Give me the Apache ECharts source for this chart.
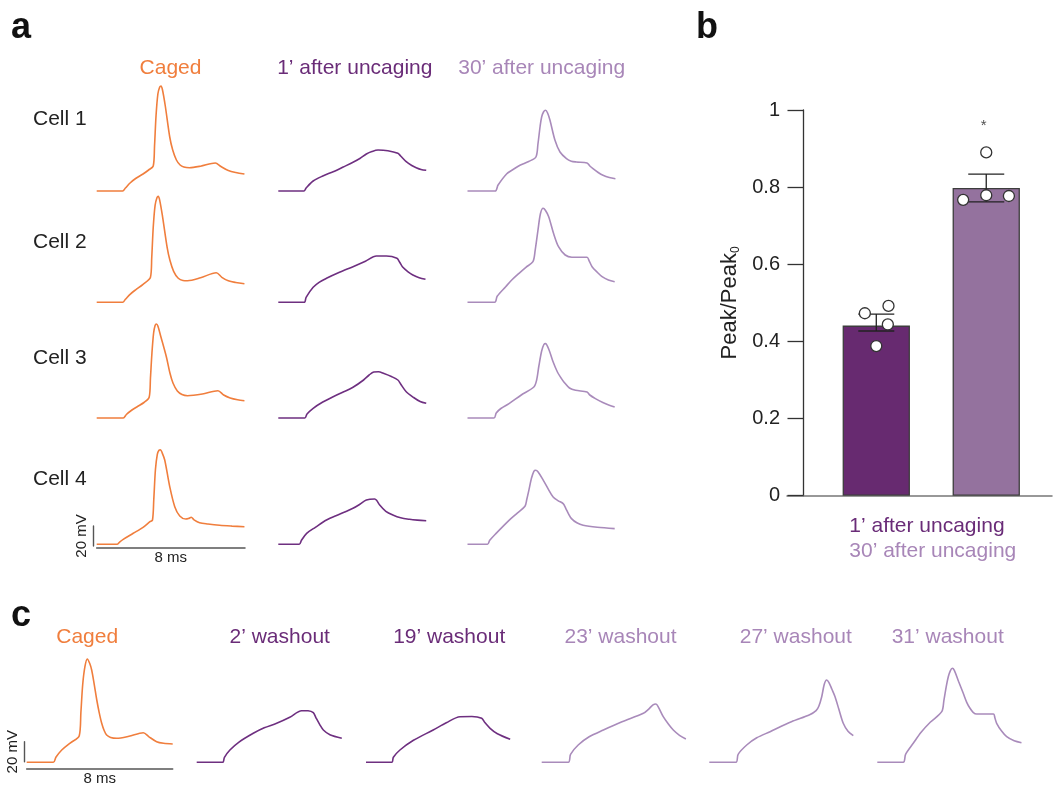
<!DOCTYPE html>
<html>
<head>
<meta charset="utf-8">
<script src="https://cdn.jsdelivr.net/npm/echarts@6.0.0/dist/echarts.min.js"></script>
<style>html,body{margin:0;padding:0;background:#fff}#chart{width:1054px;height:789px}</style>
</head>
<body>
<div id="chart"></div>
<script>
// ---------- DATA (time in ms, membrane potential in mV above baseline) ----------
const columnLabelsA = ["Caged", "1’ after uncaging", "30’ after uncaging"];
const cellLabels = ["Cell 1", "Cell 2", "Cell 3", "Cell 4"];
const columnLabelsC = ["Caged", "2’ washout", "19’ washout", "23’ washout", "27’ washout", "31’ washout"];

const cell1Caged = [[0,0],[1.4,0],[1.55,3],[1.8,8],[2.1,12.5],[2.5,17],[2.8,21],[3.05,25],[3.12,45],[3.2,75],[3.3,97],[3.4,104],[3.47,105],[3.55,101],[3.7,85],[3.94,54],[4.1,41],[4.3,31],[4.5,26],[4.7,24],[5.0,23.3],[5.6,24.8],[6.4,28],[6.7,24.5],[7.1,20.5],[7.5,18.5],[7.97,17]];
const cell2Caged = [[0,0],[1.4,0],[1.55,3],[1.8,8],[2.1,12.5],[2.5,18],[2.9,25],[2.97,45],[3.05,75],[3.15,97],[3.25,104.5],[3.32,106],[3.4,102],[3.55,86],[3.8,55],[3.95,42],[4.15,31],[4.4,24],[4.65,21.8],[4.9,21.6],[5.6,24.5],[6.45,29.6],[6.75,25],[7.1,21.5],[7.5,19.8],[7.97,18.6]];
const cell3Caged = [[0,0],[1.43,0],[1.6,3.5],[1.9,8],[2.2,11.5],[2.55,15.5],[2.83,20.7],[2.9,40],[2.98,65],[3.07,85],[3.15,92.5],[3.22,94],[3.3,92],[3.45,82],[3.76,61],[3.95,45],[4.12,34.7],[4.35,27],[4.6,23.5],[4.9,22.3],[5.7,24],[6.54,27.3],[6.85,23],[7.2,20],[7.6,18.2],[7.97,17.3]];
const cell4Caged = [[0,0],[1.11,0],[1.25,2.5],[1.43,5],[1.97,11],[2.5,17],[2.87,22.6],[3.01,24.3],[3.08,45],[3.17,75],[3.27,90],[3.36,94],[3.44,94.6],[3.52,92],[3.67,84.3],[3.94,57.6],[4.21,37.6],[4.48,28.3],[4.8,25.3],[4.95,25.8],[5.1,27],[5.25,24.5],[5.55,21.6],[6.0,20.3],[6.63,19],[7.3,18.2],[7.97,17.6]];

const cell1After1 = [[0,0],[1.38,0],[1.5,3],[1.88,10],[2.4,15],[2.96,19.3],[3.5,24],[4.03,28.7],[4.4,32.5],[4.75,37],[5.05,39.5],[5.38,41],[5.91,40.3],[6.45,37.7],[6.6,35],[6.9,29.3],[7.2,25.5],[7.44,23.3],[7.7,21.5],[7.98,20.7]];
const cell2After1 = [[0,0],[1.4,0],[1.5,5],[1.88,15],[2.2,20],[2.6,24],[3.3,30],[4.03,35.6],[4.7,41],[5.29,46.3],[5.83,46.3],[6.4,44],[6.55,40],[6.72,35],[7.0,30.5],[7.26,27.3],[7.6,24.5],[7.94,23]];
const cell3After1 = [[0,0],[1.43,0],[1.55,4],[1.88,9.7],[2.4,16],[2.96,21.3],[3.5,26],[4.03,30.7],[4.6,38],[4.9,43],[5.15,46],[5.4,46.3],[5.7,44.5],[6.1,41.5],[6.45,38],[6.6,34],[6.9,26.3],[7.3,20.5],[7.65,16.5],[7.98,14.7]];
const cell4After1 = [[0,0],[1.13,0],[1.25,4],[1.53,11],[2.0,17],[2.6,24.3],[3.3,30],[4.03,36],[4.4,40],[4.75,44.3],[5.2,45.3],[5.3,44],[5.47,39.3],[5.8,33],[6.18,29.3],[6.6,26.5],[7.08,25],[7.5,24.2],[7.98,23.6]];

const cell1After30 = [[0,0],[1.49,0],[1.65,6],[2.12,17.3],[2.5,22],[2.83,25.7],[3.3,29.5],[3.69,34],[3.8,47],[3.92,65],[4.0,74],[4.1,79],[4.21,80.7],[4.32,78],[4.45,70.7],[4.72,50.7],[4.99,39],[5.34,32.4],[5.6,29.8],[5.88,29],[6.45,28],[6.6,25],[6.77,22.3],[7.05,18.5],[7.31,15.7],[7.65,13.5],[7.98,12.3]];
const cell2After30 = [[0,0],[1.47,0],[1.6,6],[2.06,15.6],[2.4,22.5],[2.78,29],[3.15,35],[3.53,40.6],[3.65,52],[3.8,72],[3.94,89],[4.08,94],[4.2,92],[4.38,85.6],[4.64,69],[4.91,55.6],[5.27,47.3],[5.63,45],[6.45,45],[6.55,42],[6.72,35.6],[7.0,30],[7.26,25.6],[7.6,22.3],[7.94,20.6]];
const cell3After30 = [[0,0],[1.43,0],[1.55,5],[1.8,9.5],[2.24,14.4],[2.9,23],[3.58,31],[3.73,38],[3.85,52],[4.0,67],[4.12,73.5],[4.21,74.4],[4.4,68],[4.6,57],[4.85,46],[5.05,40],[5.2,36],[5.5,30],[5.83,27.7],[6.45,26],[6.6,23],[6.9,19.4],[7.3,15.5],[7.65,12.8],[7.94,11]];
const cell4After30 = [[0,0],[1.08,0],[1.2,4],[1.53,10.7],[2.24,24],[2.7,31.5],[3.1,38],[3.2,45],[3.31,54],[3.45,66],[3.58,73],[3.68,74],[3.8,72.5],[4.09,64],[4.35,55.5],[4.62,47.3],[4.9,43.5],[5.16,40.7],[5.3,36],[5.45,30.5],[5.61,25.7],[5.9,21.5],[6.24,19],[7.0,17],[7.94,15.7]];

const washCaged = [[0,0],[1.46,0],[1.6,5],[1.92,12.3],[2.4,19.5],[2.88,26.6],[2.97,50],[3.07,78],[3.19,95.6],[3.32,103.3],[3.45,99],[3.56,92.3],[3.7,78],[3.84,62.3],[3.97,50],[4.11,39],[4.25,31.5],[4.38,27.3],[4.6,24.8],[4.93,24],[5.6,26],[6.39,29.6],[6.7,25.5],[7.12,20.6],[7.5,19],[8.0,18.3]];
const wash2 = [[0,0],[1.42,0],[1.52,5],[1.82,12.3],[2.3,20],[3.1,29],[3.7,34.5],[4.38,39],[5.1,45],[5.75,51.6],[6.1,51.5],[6.39,49.6],[6.55,44],[6.75,37.5],[6.94,32.3],[7.3,27.5],[7.95,24]];
const wash19 = [[0,0],[1.41,0],[1.5,5],[1.86,12.3],[2.6,22],[3.68,32.3],[4.4,39.5],[5.15,45.6],[5.8,45.8],[6.34,44],[6.5,40],[6.8,34],[7.2,28.5],[7.9,23]];
const wash23 = [[0,0],[1.46,0],[1.58,8],[2.0,17.3],[2.6,25.5],[3.38,32.3],[4.4,40.5],[5.57,49],[5.85,53],[6.1,57.5],[6.26,58.3],[6.4,55],[6.66,45.6],[6.95,38],[7.21,32.3],[7.55,27],[7.9,23.3]];
const wash27 = [[0,0],[1.46,0],[1.58,8],[2.05,17.3],[2.6,24.5],[3.33,30.6],[4.5,40.5],[5.5,47.5],[5.85,51.6],[6.0,56],[6.16,65.6],[6.3,78],[6.43,82.3],[6.55,80],[6.72,73],[6.89,65.6],[7.1,53],[7.34,39],[7.6,31],[7.89,26.6]];
const wash31 = [[0,0],[1.42,0],[1.55,8],[1.97,19],[2.4,30],[2.9,40],[3.53,50.6],[3.65,62],[3.78,76],[3.89,85.6],[4.0,91.5],[4.11,94],[4.22,92],[4.45,81],[4.71,69],[4.9,60],[5.08,54],[5.25,50],[5.44,48.3],[6.36,48.3],[6.45,44],[6.54,39],[6.8,31.5],[7.09,25.6],[7.5,21.5],[7.9,19.6]];

const scaleBarMs = 8;
const scaleBarMv = 20;

const barCategories = ["1’ after uncaging", "30’ after uncaging"];
const barMeans = [0.441, 0.798];
const barErrLow = [0.427, 0.762];
const barErrHigh = [0.471, 0.834];
const barPoints1 = [0.473, 0.492, 0.444, 0.388];
const barPoints2 = [0.767, 0.779, 0.777, 0.890];
const yTickInterval = 0.2;
const significanceMark = "*";
const significanceLevel = 0.96;

// ---------- STYLE / LAYOUT ----------
const FONT = "'Liberation Sans', Arial, Helvetica, sans-serif";
const ORANGE = '#F07E3D';
const DARK = '#6E2F80';
const LIGHT = '#A98BBB';
const TXT_DARK = '#6A2C78';
const TXT_LIGHT = '#A886B8';

const grids = [], xAxes = [], yAxes = [], series = [];
const YSPAN = 115;

function addTrace(data, left, width, baseline, color) {
  const i = grids.length;
  grids.push({left: left, width: width, top: baseline - YSPAN, height: YSPAN});
  xAxes.push({gridIndex: i, type: 'value', min: 0, max: scaleBarMs, show: false});
  yAxes.push({gridIndex: i, type: 'value', min: 0, max: YSPAN, show: false});
  series.push({type: 'line', xAxisIndex: i, yAxisIndex: i, data: data, showSymbol: false,
    smooth: 0.3, clip: false, silent: true,
    lineStyle: {color: color, width: 1.6}});
}

function addVScale(left, top, height) {
  const i = grids.length;
  grids.push({left: left, width: 10, top: top, height: height});
  xAxes.push({gridIndex: i, type: 'value', min: 0, max: 1, show: false});
  yAxes.push({gridIndex: i, type: 'value', min: 0, max: scaleBarMv,
    axisLine: {show: true, onZero: false, lineStyle: {color: '#555', width: 1.4}},
    axisTick: {show: false}, axisLabel: {show: false}, splitLine: {show: false},
    name: scaleBarMv + ' mV', nameLocation: 'middle', nameGap: 4,
    nameTextStyle: {fontFamily: FONT, fontSize: 15, color: '#222'}});
}
function addHScale(left, width, bottom) {
  const i = grids.length;
  grids.push({left: left, width: width, top: bottom - 15, height: 15});
  xAxes.push({gridIndex: i, type: 'value', min: 0, max: scaleBarMs,
    axisLine: {show: true, onZero: false, lineStyle: {color: '#555', width: 1.5}},
    axisTick: {show: false}, axisLabel: {show: false}, splitLine: {show: false},
    name: scaleBarMs + ' ms', nameLocation: 'middle', nameGap: 3,
    nameTextStyle: {fontFamily: FONT, fontSize: 15, color: '#222'}});
  yAxes.push({gridIndex: i, type: 'value', min: 0, max: 1, show: false});
}

// Panel a traces
const panelA = [
  [cell1Caged, cell1After1, cell1After30],
  [cell2Caged, cell2After1, cell2After30],
  [cell3Caged, cell3After1, cell3After30],
  [cell4Caged, cell4After1, cell4After30]
];
const aLefts = [96.7, 278.3, 467.5];
const aBaselines = [191, 302.3, 418, 544.3];
const aColors = [ORANGE, DARK, LIGHT];
panelA.forEach((row, r) => row.forEach((d, c) => addTrace(d, aLefts[c], 148.3, aBaselines[r], aColors[c])));
addVScale(93.3, 526, 20);
addHScale(96.7, 148.3, 547.7);

// Panel c traces
const panelC = [washCaged, wash2, wash19, wash23, wash27, wash31];
const cLefts = [26.7, 196.7, 366, 541.7, 709.3, 877.3];
const cColors = [ORANGE, DARK, DARK, LIGHT, LIGHT, LIGHT];
panelC.forEach((d, k) => addTrace(d, cLefts[k], 146, 762.3, cColors[k]));
addVScale(24, 741.7, 20);
addHScale(26.7, 146, 768.3);

// Panel b bar chart
const B = grids.length;
const barX = [0.662, 1.662];
const jitter = [[-0.104, 0.111, 0.105, 0], [-0.21, 0, 0.206, 0]];
grids.push({left: 787, top: 110, width: 265, height: 385.7});
xAxes.push({gridIndex: B, type: 'value', min: -0.15, max: 2.26,
  axisLine: {show: true, onZero: false, lineStyle: {color: '#777', width: 1.5}},
  axisTick: {show: false}, axisLabel: {show: false}, splitLine: {show: false}});
yAxes.push({gridIndex: B, type: 'value', min: 0, max: 1, interval: yTickInterval,
  axisLine: {show: true, onZero: true, lineStyle: {color: '#333', width: 1.3}},
  axisTick: {show: true, length: 16, lineStyle: {color: '#333', width: 1.3}},
  axisLabel: {fontFamily: FONT, fontSize: 20, color: '#222', margin: 7},
  splitLine: {show: false},
  name: '{n|Peak/Peak}{s|0}', nameLocation: 'middle', nameGap: 45,
  nameTextStyle: {rich: {
    n: {fontFamily: FONT, fontSize: 22, color: '#222'},
    s: {fontFamily: FONT, fontSize: 12, color: '#222', padding: [12, 0, 0, 0]}
  }}});
const barColors = ['#672A70', '#94729E'];
series.push({type: 'bar', xAxisIndex: B, yAxisIndex: B, barWidth: 67.3, z: 2,
  data: barMeans.map((v, i) => ({value: [barX[i], v], itemStyle: {color: barColors[i], borderColor: '#3d3d3d', borderWidth: 1.3}}))});
series.push({type: 'custom', xAxisIndex: B, yAxisIndex: B, z: 3,
  data: barMeans.map((v, i) => [barX[i], barErrLow[i], barErrHigh[i]]),
  encode: {x: 0, y: [1, 2]},
  renderItem: function (params, api) {
    const x = api.value(0);
    const lo = api.coord([x, api.value(1)]);
    const hi = api.coord([x, api.value(2)]);
    const hw = 18;
    const st = {stroke: '#222', lineWidth: 1.3};
    return {type: 'group', children: [
      {type: 'line', shape: {x1: lo[0], y1: lo[1], x2: hi[0], y2: hi[1]}, style: st},
      {type: 'line', shape: {x1: hi[0] - hw, y1: hi[1], x2: hi[0] + hw, y2: hi[1]}, style: st},
      {type: 'line', shape: {x1: lo[0] - hw, y1: lo[1], x2: lo[0] + hw, y2: lo[1]}, style: st}
    ]};
  }});
const pts = [];
[barPoints1, barPoints2].forEach((arr, i) => arr.forEach((v, k) => pts.push([barX[i] + jitter[i][k], v])));
series.push({type: 'scatter', xAxisIndex: B, yAxisIndex: B, z: 4, data: pts, symbolSize: 11,
  itemStyle: {color: '#fff', borderColor: '#333', borderWidth: 1.3, opacity: 1}, silent: true});
series.push({type: 'scatter', xAxisIndex: B, yAxisIndex: B, z: 4, data: [[barX[1] - 0.024, significanceLevel]],
  symbolSize: 1, itemStyle: {color: 'rgba(0,0,0,0)'},
  label: {show: true, position: 'inside', formatter: significanceMark, fontFamily: FONT, fontSize: 15, color: '#222'}});

// ---------- TEXT ----------
const titles = [];
function T(text, left, top, size, color, opts) {
  titles.push(Object.assign({text: text, left: left, top: top, padding: 0,
    textStyle: {fontFamily: FONT, fontSize: size, color: color, fontWeight: 'normal'}}, opts || {}));
}
const bold = {fontFamily: FONT, fontSize: 36, fontWeight: 'bold', color: '#111'};
T('a', 11, 9.7, 36, '#111', {textStyle: bold});
T('b', 696, 10, 36, '#111', {textStyle: bold});
T('c', 11, 598, 36, '#111', {textStyle: bold});
const aCenters = [170.5, 354.8, 541.7];
const aTitleColors = [ORANGE, TXT_DARK, TXT_LIGHT];
columnLabelsA.forEach((t, i) => T(t, aCenters[i], 57.6, 21, aTitleColors[i], {textAlign: 'center'}));
const cellTops = [108.6, 232, 347.7, 468.7];
cellLabels.forEach((t, i) => T(t, 33, cellTops[i], 21, '#222'));
const cCenters = [87.2, 279.7, 449.2, 620.5, 795.8, 947.7];
const cTitleColors = [ORANGE, TXT_DARK, TXT_DARK, TXT_LIGHT, TXT_LIGHT, TXT_LIGHT];
columnLabelsC.forEach((t, i) => T(t, cCenters[i], 626.6, 21, cTitleColors[i], {textAlign: 'center'}));
T(barCategories[0], 849.3, 515.3, 21, TXT_DARK);
T(barCategories[1], 849.3, 540.3, 21, TXT_LIGHT);

const chart = echarts.init(document.getElementById('chart'), null, {renderer: 'canvas'});
chart.setOption({
  animation: false,
  backgroundColor: '#fff',
  title: titles,
  grid: grids,
  xAxis: xAxes,
  yAxis: yAxes,
  series: series
});
</script>
</body>
</html>
